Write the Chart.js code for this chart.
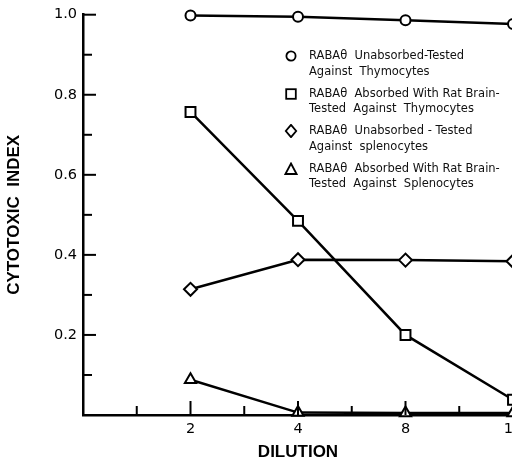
<!DOCTYPE html>
<html>
<head>
<meta charset="utf-8">
<script src="https://cdn.jsdelivr.net/npm/chart.js@4/dist/chart.umd.min.js"></script>
<style>
  html, body { margin: 0; padding: 0; background: #fff; overflow: hidden; }
  #wrap { position: relative; width: 540px; height: 465px; }
  #legend { position: absolute; left: 284px; top: 48px; font-family: "DejaVu Sans", sans-serif; font-size: 11.5px; color: #111; white-space: pre; }
  .row { position: relative; padding-left: 25px; line-height: 15.5px; margin-bottom: 6.5px; }
  .mk { position: absolute; left: 0; top: 1px; }
</style>
</head>
<body>
<div id="wrap">
  <canvas id="chart" width="540" height="465"></canvas>
  <div id="legend"></div>
</div>
<script>
const dilutions = [2, 4, 8, 16];
const unabsorbedThymocytes = [0.998, 0.995, 0.986, 0.977];
const absorbedThymocytes = [0.757, 0.485, 0.200, 0.038];
const unabsorbedSplenocytes = [0.314, 0.388, 0.387, 0.384];
const absorbedSplenocytes = [0.088, 0.006, 0.005, 0.005];

const seriesLabels = [
  ['RABA\u03B8  Unabsorbed-Tested', 'Against  Thymocytes'],
  ['RABA\u03B8  Absorbed With Rat Brain-', 'Tested  Against  Thymocytes'],
  ['RABA\u03B8  Unabsorbed - Tested', 'Against  splenocytes'],
  ['RABA\u03B8  Absorbed With Rat Brain-', 'Tested  Against  Splenocytes']
];
const yTickLabels = ['0.2', '0.4', '0.6', '0.8', '1.0'];

const styles = [
  { pointStyle: 'circle', pointRadius: 5 },
  { pointStyle: 'rect', pointRadius: 7 },
  { pointStyle: 'rectRot', pointRadius: 6.5 },
  { pointStyle: 'triangle', pointRadius: 6.5 }
];
const values = [unabsorbedThymocytes, absorbedThymocytes, unabsorbedSplenocytes, absorbedSplenocytes];

// small svg markers for the legend
const markerSvg = [
  '<circle cx="7" cy="7" r="4.6" />',
  '<rect x="2.2" y="2.2" width="9.6" height="9.6" />',
  '<path d="M7 0.8 L12.2 7 L7 13.2 L1.8 7 Z" />',
  '<path d="M7 1.5 L12.6 12 L1.4 12 Z" />'
];

const datasets = values.map((vals, i) => ({
  label: seriesLabels[i].join(' '),
  data: vals.map((v, j) => ({ x: Math.log2(dilutions[j]), y: v })),
  borderColor: '#000',
  borderWidth: 2.5,
  backgroundColor: '#fff',
  pointBackgroundColor: '#fff',
  pointBorderColor: '#000',
  pointBorderWidth: 2,
  pointStyle: styles[i].pointStyle,
  pointRadius: styles[i].pointRadius,
  tension: 0,
  clip: false
}));

// ticks pointing into the plot area, as in the original figure
const innerTicks = {
  id: 'innerTicks',
  afterDatasetsDraw(chart) {
    const ctx = chart.ctx;
    const xs = chart.scales.x, ys = chart.scales.y;
    ctx.save();
    ctx.strokeStyle = '#000';
    ctx.lineWidth = 2;
    for (let k = 1; k <= 10; k++) {
      const py = ys.getPixelForValue(k / 10);
      const len = k % 2 === 0 ? 13 : 9;
      ctx.beginPath();
      ctx.moveTo(xs.left, py);
      ctx.lineTo(xs.left + len, py);
      ctx.stroke();
    }
    for (let k = 1; k <= 8; k++) {
      const px = xs.getPixelForValue(k / 2);
      const len = k % 2 === 0 ? 14 : 9;
      ctx.beginPath();
      ctx.moveTo(px, ys.bottom);
      ctx.lineTo(px, ys.bottom - len);
      ctx.stroke();
    }
    ctx.restore();
  }
};

new Chart(document.getElementById('chart'), {
  type: 'line',
  data: { datasets },
  plugins: [innerTicks],
  options: {
    responsive: false,
    animation: false,
    layout: { padding: { top: 12, right: 27, left: 0, bottom: 0 } },
    plugins: { legend: { display: false }, tooltip: { enabled: false } },
    scales: {
      x: {
        type: 'linear',
        min: 0,
        max: 4,
        grid: { display: false, drawTicks: false },
        border: { color: '#000', width: 2.5 },
        ticks: {
          stepSize: 0.5,
          padding: 6,
          color: '#000',
          font: { family: 'DejaVu Sans', size: 14.5 },
          maxRotation: 0,
          autoSkip: false,
          callback: v => (Number.isInteger(v) && v >= 1 ? String(dilutions[v - 1]) : '')
        },
        title: {
          display: true,
          text: 'DILUTION',
          color: '#000',
          font: { family: 'Liberation Sans', size: 17, weight: 'bold' },
          padding: { top: 4, bottom: 2 }
        },
        afterFit: s => { s.height = 50; }
      },
      y: {
        min: 0,
        max: 1,
        grid: { display: false, drawTicks: false },
        border: { color: '#000', width: 2.5 },
        ticks: {
          stepSize: 0.1,
          padding: 6,
          color: '#000',
          font: { family: 'DejaVu Sans', size: 14.5 },
          autoSkip: false,
          callback: v => {
            const k = Math.round(v * 10);
            return k > 0 && k % 2 === 0 ? yTickLabels[k / 2 - 1] : '';
          }
        },
        title: {
          display: true,
          text: 'CYTOTOXIC  INDEX',
          color: '#000',
          font: { family: 'Liberation Sans', size: 17, weight: 'bold' },
          padding: { top: 4, bottom: 4 }
        },
        afterFit: s => { s.width = 83; }
      }
    }
  }
});

const legend = document.getElementById('legend');
seriesLabels.forEach((lines, i) => {
  const row = document.createElement('div');
  row.className = 'row';
  row.innerHTML = '<svg class="mk" width="14" height="14" viewBox="0 0 14 14" fill="none" stroke="#000" stroke-width="1.8">' +
    markerSvg[i] + '</svg>' + lines.join('\n');
  legend.appendChild(row);
});
</script>
</body>
</html>
